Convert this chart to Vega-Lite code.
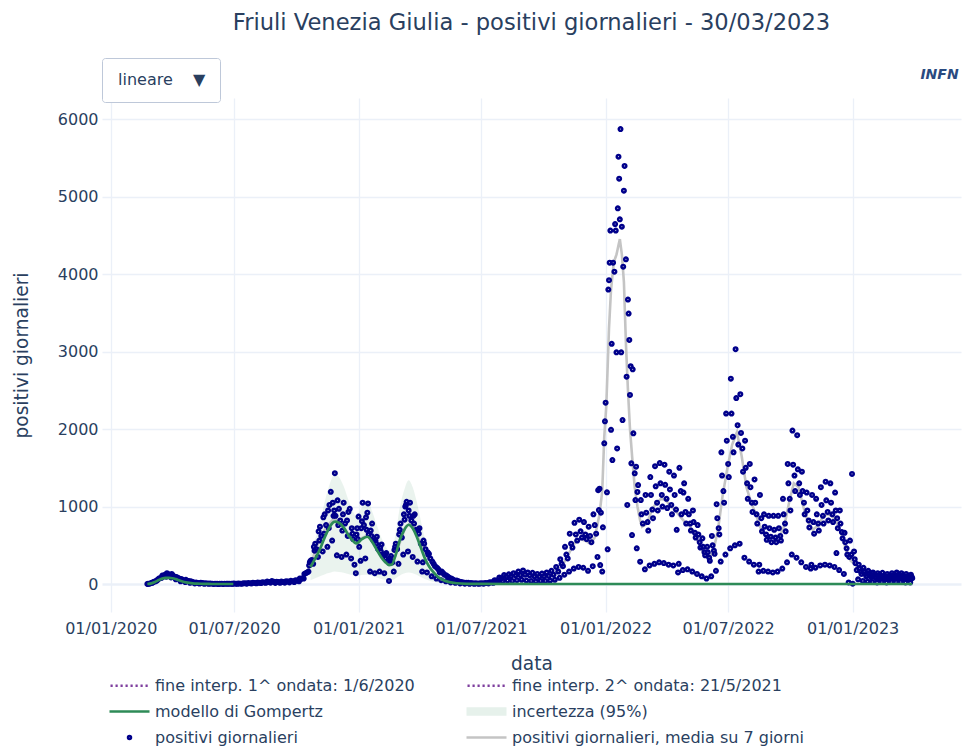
{
"$schema":"https://vega.github.io/schema/vega-lite/v6.json",
"width":859,"height":514,
"autosize":{"type":"none"},
"padding":{"left":102,"top":98,"right":4,"bottom":139},
"background":"#ffffff",
"config":{"view":{"stroke":null},"font":"DejaVu Sans"},
"title":{"text":"Friuli Venezia Giulia - positivi giornalieri - 30/03/2023","fontSize":22.6,"font":"DejaVu Sans","fontWeight":"normal","color":"#2a3f5f","anchor":"middle","frame":"group","offset":23},
"resolve":{"axis":{"x":"independent","y":"independent"}},
"datasets":{
"pts":[
{"d":"2020-02-24","v":1},{"d":"2020-02-25","v":2},{"d":"2020-02-27","v":5},{"d":"2020-02-29","v":10},
{"d":"2020-03-02","v":15},{"d":"2020-03-03","v":20},{"d":"2020-03-05","v":30},{"d":"2020-03-07","v":35},
{"d":"2020-03-09","v":45},{"d":"2020-03-10","v":55},{"d":"2020-03-12","v":70},{"d":"2020-03-14","v":75},
{"d":"2020-03-16","v":80},{"d":"2020-03-17","v":110},{"d":"2020-03-19","v":100},{"d":"2020-03-21","v":120},
{"d":"2020-03-23","v":95},{"d":"2020-03-24","v":140},{"d":"2020-03-26","v":125},{"d":"2020-03-28","v":115},
{"d":"2020-03-30","v":85},{"d":"2020-03-31","v":130},{"d":"2020-04-02","v":110},{"d":"2020-04-04","v":95},
{"d":"2020-04-06","v":60},{"d":"2020-04-07","v":90},{"d":"2020-04-09","v":80},{"d":"2020-04-11","v":70},
{"d":"2020-04-13","v":35},{"d":"2020-04-14","v":65},{"d":"2020-04-16","v":55},{"d":"2020-04-18","v":45},
{"d":"2020-04-20","v":25},{"d":"2020-04-21","v":55},{"d":"2020-04-23","v":40},{"d":"2020-04-25","v":38},
{"d":"2020-04-27","v":15},{"d":"2020-04-28","v":35},{"d":"2020-04-30","v":28},{"d":"2020-05-02","v":22},
{"d":"2020-05-04","v":8},{"d":"2020-05-06","v":20},{"d":"2020-05-09","v":14},{"d":"2020-05-11","v":6},{"d":"2020-05-13","v":15},{"d":"2020-05-16","v":12},{"d":"2020-05-18","v":3},{"d":"2020-05-20","v":10},{"d":"2020-05-23","v":8},{"d":"2020-05-25","v":2},{"d":"2020-05-27","v":7},{"d":"2020-05-30","v":5},
{"d":"2020-06-01","v":1},{"d":"2020-06-03","v":4},{"d":"2020-06-06","v":3},{"d":"2020-06-08","v":0},{"d":"2020-06-10","v":4},{"d":"2020-06-13","v":2},{"d":"2020-06-15","v":1},{"d":"2020-06-17","v":3},{"d":"2020-06-20","v":4},{"d":"2020-06-22","v":2},{"d":"2020-06-24","v":5},{"d":"2020-06-27","v":3},{"d":"2020-06-29","v":2},
{"d":"2020-07-01","v":6},{"d":"2020-07-04","v":5},{"d":"2020-07-06","v":3},{"d":"2020-07-08","v":7},{"d":"2020-07-11","v":5},{"d":"2020-07-13","v":4},{"d":"2020-07-15","v":10},{"d":"2020-07-18","v":9},{"d":"2020-07-20","v":5},{"d":"2020-07-22","v":13},{"d":"2020-07-25","v":11},{"d":"2020-07-27","v":8},{"d":"2020-07-29","v":18},
{"d":"2020-08-01","v":14},{"d":"2020-08-03","v":9},{"d":"2020-08-05","v":19},{"d":"2020-08-08","v":15},{"d":"2020-08-10","v":12},{"d":"2020-08-12","v":24},{"d":"2020-08-15","v":20},{"d":"2020-08-17","v":15},{"d":"2020-08-19","v":32},{"d":"2020-08-22","v":26},{"d":"2020-08-24","v":18},{"d":"2020-08-26","v":38},{"d":"2020-08-29","v":30},{"d":"2020-08-31","v":14},
{"d":"2020-09-02","v":30},{"d":"2020-09-05","v":27},{"d":"2020-09-07","v":15},{"d":"2020-09-09","v":31},{"d":"2020-09-12","v":26},{"d":"2020-09-14","v":17},{"d":"2020-09-16","v":36},{"d":"2020-09-19","v":31},{"d":"2020-09-21","v":20},{"d":"2020-09-23","v":42},{"d":"2020-09-26","v":36},{"d":"2020-09-28","v":25},{"d":"2020-09-30","v":50},
{"d":"2020-10-03","v":44},{"d":"2020-10-05","v":35},{"d":"2020-10-06","v":70},{"d":"2020-10-08","v":65},{"d":"2020-10-10","v":75},{"d":"2020-10-12","v":70},{"d":"2020-10-13","v":130},{"d":"2020-10-15","v":140},{"d":"2020-10-17","v":150},
{"d":"2020-10-19","v":160},{"d":"2020-10-20","v":240},{"d":"2020-10-21","v":280},{"d":"2020-10-22","v":300},{"d":"2020-10-24","v":310},
{"d":"2020-10-26","v":260},{"d":"2020-10-27","v":480},{"d":"2020-10-28","v":430},{"d":"2020-10-29","v":520},{"d":"2020-10-31","v":450},
{"d":"2020-11-02","v":350},{"d":"2020-11-03","v":680},{"d":"2020-11-04","v":560},{"d":"2020-11-05","v":740},{"d":"2020-11-07","v":620},
{"d":"2020-11-09","v":420},{"d":"2020-11-10","v":860},{"d":"2020-11-11","v":650},{"d":"2020-11-12","v":900},{"d":"2020-11-14","v":760},
{"d":"2020-11-16","v":480},{"d":"2020-11-17","v":950},{"d":"2020-11-18","v":720},{"d":"2020-11-19","v":1020},{"d":"2020-11-21","v":1190},
{"d":"2020-11-23","v":560},{"d":"2020-11-24","v":1050},{"d":"2020-11-25","v":880},{"d":"2020-11-26","v":950},{"d":"2020-11-27","v":1430},{"d":"2020-11-28","v":880},
{"d":"2020-11-30","v":370},{"d":"2020-12-01","v":1080},{"d":"2020-12-02","v":760},{"d":"2020-12-03","v":970},{"d":"2020-12-05","v":820},
{"d":"2020-12-07","v":350},{"d":"2020-12-08","v":690},{"d":"2020-12-09","v":900},{"d":"2020-12-10","v":1050},{"d":"2020-12-12","v":780},
{"d":"2020-12-14","v":380},{"d":"2020-12-15","v":820},{"d":"2020-12-16","v":620},{"d":"2020-12-17","v":930},{"d":"2020-12-19","v":970},
{"d":"2020-12-21","v":330},{"d":"2020-12-22","v":720},{"d":"2020-12-23","v":650},{"d":"2020-12-24","v":580},{"d":"2020-12-26","v":250},
{"d":"2020-12-28","v":140},{"d":"2020-12-29","v":640},{"d":"2020-12-30","v":720},{"d":"2020-12-31","v":580},
{"d":"2021-01-01","v":870},{"d":"2021-01-02","v":480},{"d":"2021-01-04","v":300},{"d":"2021-01-05","v":720},{"d":"2021-01-06","v":810},{"d":"2021-01-07","v":1050},{"d":"2021-01-09","v":760},
{"d":"2021-01-11","v":330},{"d":"2021-01-12","v":860},{"d":"2021-01-13","v":700},{"d":"2021-01-14","v":920},{"d":"2021-01-15","v":1040},{"d":"2021-01-16","v":640},
{"d":"2021-01-18","v":160},{"d":"2021-01-19","v":690},{"d":"2021-01-20","v":620},{"d":"2021-01-21","v":780},{"d":"2021-01-23","v":560},
{"d":"2021-01-25","v":140},{"d":"2021-01-26","v":560},{"d":"2021-01-27","v":520},{"d":"2021-01-28","v":610},{"d":"2021-01-30","v":450},
{"d":"2021-02-01","v":160},{"d":"2021-02-02","v":470},{"d":"2021-02-03","v":420},{"d":"2021-02-04","v":510},{"d":"2021-02-06","v":380},
{"d":"2021-02-08","v":140},{"d":"2021-02-09","v":380},{"d":"2021-02-10","v":330},{"d":"2021-02-11","v":400},{"d":"2021-02-13","v":300},
{"d":"2021-02-15","v":40},{"d":"2021-02-16","v":330},{"d":"2021-02-17","v":300},{"d":"2021-02-18","v":360},{"d":"2021-02-20","v":280},
{"d":"2021-02-22","v":160},{"d":"2021-02-23","v":440},{"d":"2021-02-24","v":480},{"d":"2021-02-25","v":520},{"d":"2021-02-27","v":450},
{"d":"2021-03-01","v":260},{"d":"2021-03-02","v":640},{"d":"2021-03-03","v":700},{"d":"2021-03-04","v":780},{"d":"2021-03-06","v":600},
{"d":"2021-03-08","v":380},{"d":"2021-03-09","v":900},{"d":"2021-03-10","v":830},{"d":"2021-03-11","v":1000},{"d":"2021-03-12","v":1020},{"d":"2021-03-13","v":1060},
{"d":"2021-03-15","v":420},{"d":"2021-03-16","v":950},{"d":"2021-03-17","v":880},{"d":"2021-03-18","v":1050},{"d":"2021-03-20","v":820},
{"d":"2021-03-22","v":350},{"d":"2021-03-23","v":880},{"d":"2021-03-24","v":780},{"d":"2021-03-25","v":900},{"d":"2021-03-27","v":700},
{"d":"2021-03-29","v":290},{"d":"2021-03-30","v":700},{"d":"2021-03-31","v":650},{"d":"2021-04-01","v":720},{"d":"2021-04-03","v":520},
{"d":"2021-04-05","v":160},{"d":"2021-04-06","v":280},{"d":"2021-04-07","v":560},{"d":"2021-04-08","v":520},{"d":"2021-04-10","v":450},
{"d":"2021-04-12","v":150},{"d":"2021-04-13","v":410},{"d":"2021-04-14","v":380},{"d":"2021-04-15","v":390},{"d":"2021-04-17","v":330},
{"d":"2021-04-19","v":100},{"d":"2021-04-20","v":290},{"d":"2021-04-22","v":260},{"d":"2021-04-24","v":230},
{"d":"2021-04-26","v":70},{"d":"2021-04-27","v":210},{"d":"2021-04-29","v":190},{"d":"2021-05-01","v":150},
{"d":"2021-05-03","v":50},{"d":"2021-05-04","v":160},{"d":"2021-05-06","v":140},{"d":"2021-05-08","v":120},
{"d":"2021-05-10","v":35},{"d":"2021-05-11","v":110},{"d":"2021-05-13","v":95},{"d":"2021-05-15","v":80},
{"d":"2021-05-17","v":20},{"d":"2021-05-18","v":70},{"d":"2021-05-20","v":60},{"d":"2021-05-22","v":50},
{"d":"2021-05-24","v":15},{"d":"2021-05-26","v":45},{"d":"2021-05-29","v":35},
{"d":"2021-05-31","v":8},{"d":"2021-06-02","v":25},{"d":"2021-06-05","v":20},{"d":"2021-06-07","v":5},{"d":"2021-06-09","v":18},{"d":"2021-06-12","v":15},{"d":"2021-06-14","v":3},{"d":"2021-06-16","v":12},{"d":"2021-06-19","v":10},{"d":"2021-06-21","v":2},{"d":"2021-06-23","v":10},{"d":"2021-06-26","v":8},{"d":"2021-06-28","v":3},{"d":"2021-06-30","v":10},
{"d":"2021-07-03","v":9},{"d":"2021-07-05","v":4},{"d":"2021-07-07","v":13},{"d":"2021-07-10","v":12},{"d":"2021-07-12","v":8},{"d":"2021-07-14","v":24},{"d":"2021-07-17","v":22},{"d":"2021-07-19","v":15},{"d":"2021-07-21","v":50},{"d":"2021-07-24","v":45},{"d":"2021-07-26","v":30},{"d":"2021-07-28","v":85},{"d":"2021-07-31","v":75},
{"d":"2021-08-02","v":40},{"d":"2021-08-04","v":115},{"d":"2021-08-07","v":95},{"d":"2021-08-09","v":45},{"d":"2021-08-11","v":125},{"d":"2021-08-14","v":100},{"d":"2021-08-16","v":40},{"d":"2021-08-18","v":140},{"d":"2021-08-21","v":110},{"d":"2021-08-23","v":50},{"d":"2021-08-25","v":160},{"d":"2021-08-28","v":115},{"d":"2021-08-30","v":55},
{"d":"2021-09-01","v":175},{"d":"2021-09-04","v":120},{"d":"2021-09-06","v":45},{"d":"2021-09-08","v":150},{"d":"2021-09-11","v":110},{"d":"2021-09-13","v":40},{"d":"2021-09-15","v":145},{"d":"2021-09-18","v":100},{"d":"2021-09-20","v":35},{"d":"2021-09-22","v":130},{"d":"2021-09-25","v":95},{"d":"2021-09-27","v":40},{"d":"2021-09-29","v":135},
{"d":"2021-10-02","v":100},{"d":"2021-10-04","v":40},{"d":"2021-10-06","v":150},{"d":"2021-10-09","v":105},{"d":"2021-10-11","v":45},{"d":"2021-10-13","v":170},{"d":"2021-10-16","v":120},{"d":"2021-10-18","v":55},{"d":"2021-10-20","v":220},{"d":"2021-10-23","v":160},
{"d":"2021-10-25","v":80},{"d":"2021-10-26","v":320},{"d":"2021-10-28","v":260},{"d":"2021-10-30","v":230},
{"d":"2021-11-01","v":120},{"d":"2021-11-02","v":480},{"d":"2021-11-04","v":380},{"d":"2021-11-06","v":330},
{"d":"2021-11-08","v":160},{"d":"2021-11-09","v":650},{"d":"2021-11-11","v":520},{"d":"2021-11-13","v":470},
{"d":"2021-11-15","v":200},{"d":"2021-11-16","v":790},{"d":"2021-11-18","v":640},{"d":"2021-11-20","v":560},
{"d":"2021-11-22","v":220},{"d":"2021-11-23","v":830},{"d":"2021-11-25","v":680},{"d":"2021-11-27","v":600},
{"d":"2021-11-29","v":210},{"d":"2021-11-30","v":800},{"d":"2021-12-02","v":640},{"d":"2021-12-04","v":580},
{"d":"2021-12-06","v":170},{"d":"2021-12-07","v":740},{"d":"2021-12-09","v":620},{"d":"2021-12-11","v":540},
{"d":"2021-12-13","v":230},{"d":"2021-12-14","v":900},{"d":"2021-12-16","v":760},{"d":"2021-12-18","v":650},
{"d":"2021-12-20","v":350},{"d":"2021-12-21","v":1210},{"d":"2021-12-22","v":955},{"d":"2021-12-23","v":1230},{"d":"2021-12-24","v":245},{"d":"2021-12-25","v":920},
{"d":"2021-12-27","v":160},{"d":"2021-12-28","v":731},{"d":"2021-12-30","v":1815},{"d":"2021-12-31","v":2100},
{"d":"2022-01-01","v":2340},{"d":"2022-01-03","v":1183},{"d":"2022-01-04","v":448},{"d":"2022-01-05","v":3800},{"d":"2022-01-06","v":3920},{"d":"2022-01-07","v":4146},{"d":"2022-01-08","v":4560},{"d":"2022-01-09","v":1990},{"d":"2022-01-10","v":3100},{"d":"2022-01-11","v":1600},{"d":"2022-01-12","v":4146},{"d":"2022-01-14","v":4030},{"d":"2022-01-15","v":4645},{"d":"2022-01-16","v":4560},{"d":"2022-01-17","v":2990},{"d":"2022-01-18","v":1750},{"d":"2022-01-19","v":4848},{"d":"2022-01-20","v":5514},{"d":"2022-01-21","v":5230},{"d":"2022-01-22","v":4705},{"d":"2022-01-23","v":5870},{"d":"2022-01-24","v":2990},{"d":"2022-01-25","v":4610},{"d":"2022-01-26","v":2115},{"d":"2022-01-27","v":4095},{"d":"2022-01-28","v":5075},{"d":"2022-01-29","v":5394},{"d":"2022-01-31","v":4190},
{"d":"2022-02-01","v":2675},{"d":"2022-02-02","v":1020},{"d":"2022-02-03","v":3670},{"d":"2022-02-04","v":3490},{"d":"2022-02-05","v":3150},{"d":"2022-02-06","v":2440},{"d":"2022-02-07","v":2810},{"d":"2022-02-08","v":1557},{"d":"2022-02-09","v":632},{"d":"2022-02-10","v":2770},{"d":"2022-02-11","v":1945},{"d":"2022-02-13","v":1428},{"d":"2022-02-14","v":1084},{"d":"2022-02-15","v":1514},{"d":"2022-02-16","v":460},{"d":"2022-02-17","v":1188},{"d":"2022-02-18","v":1277},{"d":"2022-02-21","v":288},{"d":"2022-02-22","v":1084},{"d":"2022-02-23","v":900},{"d":"2022-02-25","v":780},
{"d":"2022-02-28","v":190},{"d":"2022-03-01","v":1150},{"d":"2022-03-02","v":920},{"d":"2022-03-04","v":800},{"d":"2022-03-05","v":690},
{"d":"2022-03-07","v":240},{"d":"2022-03-08","v":1380},{"d":"2022-03-09","v":1150},{"d":"2022-03-11","v":960},{"d":"2022-03-12","v":850},
{"d":"2022-03-14","v":260},{"d":"2022-03-15","v":1520},{"d":"2022-03-16","v":1260},{"d":"2022-03-18","v":1050},{"d":"2022-03-19","v":950},
{"d":"2022-03-21","v":280},{"d":"2022-03-22","v":1560},{"d":"2022-03-23","v":1300},{"d":"2022-03-25","v":1150},{"d":"2022-03-26","v":1000},
{"d":"2022-03-28","v":270},{"d":"2022-03-29","v":1540},{"d":"2022-03-30","v":1280},{"d":"2022-04-01","v":1100},{"d":"2022-04-02","v":980},
{"d":"2022-04-04","v":250},{"d":"2022-04-05","v":1450},{"d":"2022-04-06","v":1220},{"d":"2022-04-08","v":1020},{"d":"2022-04-09","v":900},
{"d":"2022-04-11","v":240},{"d":"2022-04-12","v":1400},{"d":"2022-04-13","v":1150},{"d":"2022-04-15","v":960},{"d":"2022-04-16","v":700},
{"d":"2022-04-18","v":150},{"d":"2022-04-19","v":260},{"d":"2022-04-20","v":1500},{"d":"2022-04-22","v":1200},{"d":"2022-04-23","v":900},
{"d":"2022-04-25","v":180},{"d":"2022-04-26","v":1180},{"d":"2022-04-27","v":1300},{"d":"2022-04-29","v":930},{"d":"2022-04-30","v":780},
{"d":"2022-05-02","v":190},{"d":"2022-05-03","v":1100},{"d":"2022-05-04","v":900},{"d":"2022-05-06","v":780},{"d":"2022-05-07","v":690},
{"d":"2022-05-09","v":160},{"d":"2022-05-10","v":950},{"d":"2022-05-11","v":800},{"d":"2022-05-13","v":660},{"d":"2022-05-14","v":600},
{"d":"2022-05-16","v":130},{"d":"2022-05-17","v":760},{"d":"2022-05-18","v":640},{"d":"2022-05-20","v":540},{"d":"2022-05-21","v":470},
{"d":"2022-05-23","v":100},{"d":"2022-05-24","v":590},{"d":"2022-05-25","v":480},{"d":"2022-05-27","v":410},{"d":"2022-05-28","v":370},
{"d":"2022-05-30","v":70},{"d":"2022-05-31","v":480},{"d":"2022-06-01","v":410},{"d":"2022-06-03","v":340},{"d":"2022-06-04","v":300},
{"d":"2022-06-06","v":100},{"d":"2022-06-07","v":620},{"d":"2022-06-08","v":500},{"d":"2022-06-10","v":430},{"d":"2022-06-11","v":390},
{"d":"2022-06-13","v":170},{"d":"2022-06-14","v":1030},{"d":"2022-06-15","v":850},{"d":"2022-06-17","v":720},{"d":"2022-06-18","v":640},
{"d":"2022-06-20","v":290},{"d":"2022-06-21","v":1700},{"d":"2022-06-22","v":1400},{"d":"2022-06-24","v":1200},{"d":"2022-06-25","v":1050},
{"d":"2022-06-27","v":380},{"d":"2022-06-28","v":2200},{"d":"2022-06-29","v":1850},{"d":"2022-07-01","v":1550},{"d":"2022-07-02","v":1380},
{"d":"2022-07-04","v":460},{"d":"2022-07-05","v":2650},{"d":"2022-07-06","v":2200},{"d":"2022-07-08","v":1900},{"d":"2022-07-09","v":1700},
{"d":"2022-07-11","v":500},{"d":"2022-07-12","v":3030},{"d":"2022-07-13","v":2400},{"d":"2022-07-15","v":2050},{"d":"2022-07-16","v":1800},
{"d":"2022-07-18","v":520},{"d":"2022-07-19","v":2450},{"d":"2022-07-20","v":1950},{"d":"2022-07-22","v":1750},{"d":"2022-07-23","v":1450},
{"d":"2022-07-25","v":340},{"d":"2022-07-26","v":1850},{"d":"2022-07-27","v":1500},{"d":"2022-07-29","v":1300},{"d":"2022-07-30","v":1100},
{"d":"2022-08-01","v":290},{"d":"2022-08-02","v":1550},{"d":"2022-08-03","v":1250},{"d":"2022-08-05","v":1050},{"d":"2022-08-06","v":930},
{"d":"2022-08-08","v":250},{"d":"2022-08-09","v":1350},{"d":"2022-08-10","v":1050},{"d":"2022-08-12","v":900},{"d":"2022-08-13","v":780},
{"d":"2022-08-15","v":160},{"d":"2022-08-16","v":250},{"d":"2022-08-17","v":1150},{"d":"2022-08-19","v":850},{"d":"2022-08-20","v":680},
{"d":"2022-08-22","v":170},{"d":"2022-08-23","v":900},{"d":"2022-08-24","v":740},{"d":"2022-08-26","v":640},{"d":"2022-08-27","v":570},
{"d":"2022-08-29","v":160},{"d":"2022-08-30","v":880},{"d":"2022-08-31","v":720},{"d":"2022-09-02","v":610},{"d":"2022-09-03","v":540},
{"d":"2022-09-05","v":150},{"d":"2022-09-06","v":880},{"d":"2022-09-07","v":700},{"d":"2022-09-09","v":600},{"d":"2022-09-10","v":540},
{"d":"2022-09-12","v":160},{"d":"2022-09-13","v":880},{"d":"2022-09-14","v":720},{"d":"2022-09-16","v":620},{"d":"2022-09-17","v":560},
{"d":"2022-09-19","v":200},{"d":"2022-09-20","v":1100},{"d":"2022-09-21","v":900},{"d":"2022-09-23","v":780},{"d":"2022-09-24","v":680},
{"d":"2022-09-26","v":280},{"d":"2022-09-27","v":1550},{"d":"2022-09-28","v":1300},{"d":"2022-09-30","v":1100},{"d":"2022-10-01","v":950},
{"d":"2022-10-03","v":380},{"d":"2022-10-04","v":1980},{"d":"2022-10-05","v":1540},{"d":"2022-10-07","v":1400},{"d":"2022-10-08","v":1200},
{"d":"2022-10-10","v":340},{"d":"2022-10-11","v":1920},{"d":"2022-10-12","v":1480},{"d":"2022-10-14","v":1300},{"d":"2022-10-15","v":1150},
{"d":"2022-10-17","v":280},{"d":"2022-10-18","v":1450},{"d":"2022-10-19","v":1200},{"d":"2022-10-21","v":1050},{"d":"2022-10-22","v":900},
{"d":"2022-10-24","v":220},{"d":"2022-10-25","v":1180},{"d":"2022-10-26","v":950},{"d":"2022-10-28","v":820},{"d":"2022-10-29","v":730},
{"d":"2022-10-31","v":200},{"d":"2022-11-01","v":250},{"d":"2022-11-02","v":1150},{"d":"2022-11-04","v":800},{"d":"2022-11-05","v":650},
{"d":"2022-11-07","v":210},{"d":"2022-11-08","v":1100},{"d":"2022-11-09","v":900},{"d":"2022-11-11","v":780},{"d":"2022-11-12","v":690},
{"d":"2022-11-14","v":240},{"d":"2022-11-15","v":1250},{"d":"2022-11-16","v":1020},{"d":"2022-11-18","v":880},{"d":"2022-11-19","v":780},
{"d":"2022-11-21","v":250},{"d":"2022-11-22","v":1320},{"d":"2022-11-23","v":1080},{"d":"2022-11-25","v":930},{"d":"2022-11-26","v":820},
{"d":"2022-11-28","v":240},{"d":"2022-11-29","v":1300},{"d":"2022-11-30","v":1050},{"d":"2022-12-02","v":900},{"d":"2022-12-03","v":800},
{"d":"2022-12-05","v":220},{"d":"2022-12-06","v":1180},{"d":"2022-12-07","v":950},{"d":"2022-12-08","v":400},{"d":"2022-12-09","v":850},{"d":"2022-12-10","v":720},
{"d":"2022-12-12","v":180},{"d":"2022-12-13","v":950},{"d":"2022-12-14","v":780},{"d":"2022-12-16","v":670},{"d":"2022-12-17","v":590},
{"d":"2022-12-19","v":130},{"d":"2022-12-20","v":660},{"d":"2022-12-21","v":540},{"d":"2022-12-23","v":460},{"d":"2022-12-24","v":380},
{"d":"2022-12-26","v":20},{"d":"2022-12-27","v":350},{"d":"2022-12-28","v":560},{"d":"2022-12-30","v":380},{"d":"2022-12-31","v":1420},
{"d":"2023-01-01","v":5},{"d":"2023-01-03","v":420},{"d":"2023-01-04","v":320},{"d":"2023-01-05","v":270},{"d":"2023-01-07","v":180},
{"d":"2023-01-09","v":60},{"d":"2023-01-10","v":250},{"d":"2023-01-11","v":200},{"d":"2023-01-13","v":160},{"d":"2023-01-14","v":130},
{"d":"2023-01-16","v":40},{"d":"2023-01-17","v":210},{"d":"2023-01-18","v":160},{"d":"2023-01-20","v":130},{"d":"2023-01-21","v":100},
{"d":"2023-01-23","v":30},{"d":"2023-01-24","v":170},{"d":"2023-01-25","v":140},{"d":"2023-01-27","v":110},{"d":"2023-01-28","v":90},
{"d":"2023-01-30","v":25},{"d":"2023-01-31","v":150},{"d":"2023-02-01","v":120},{"d":"2023-02-03","v":95},{"d":"2023-02-04","v":80},
{"d":"2023-02-06","v":20},{"d":"2023-02-07","v":140},{"d":"2023-02-08","v":110},{"d":"2023-02-10","v":90},{"d":"2023-02-11","v":70},
{"d":"2023-02-13","v":25},{"d":"2023-02-14","v":145},{"d":"2023-02-15","v":105},{"d":"2023-02-17","v":85},{"d":"2023-02-18","v":70},
{"d":"2023-02-20","v":20},{"d":"2023-02-21","v":130},{"d":"2023-02-22","v":100},{"d":"2023-02-24","v":80},{"d":"2023-02-25","v":65},
{"d":"2023-02-27","v":25},{"d":"2023-02-28","v":140},{"d":"2023-03-01","v":110},{"d":"2023-03-03","v":90},{"d":"2023-03-04","v":70},
{"d":"2023-03-06","v":25},{"d":"2023-03-07","v":150},{"d":"2023-03-08","v":115},{"d":"2023-03-10","v":95},{"d":"2023-03-11","v":75},
{"d":"2023-03-13","v":25},{"d":"2023-03-14","v":140},{"d":"2023-03-15","v":110},{"d":"2023-03-17","v":85},{"d":"2023-03-18","v":70},
{"d":"2023-03-20","v":20},{"d":"2023-03-21","v":130},{"d":"2023-03-22","v":100},{"d":"2023-03-24","v":80},{"d":"2023-03-25","v":65},
{"d":"2023-03-27","v":20},{"d":"2023-03-28","v":120},{"d":"2023-03-29","v":95},{"d":"2023-03-30","v":75}
],
"avg":[
{"d":"2020-02-27","v":5},{"d":"2020-03-05","v":25},{"d":"2020-03-12","v":60},{"d":"2020-03-19","v":95},{"d":"2020-03-26","v":110},{"d":"2020-04-02","v":100},{"d":"2020-04-09","v":75},{"d":"2020-04-16","v":50},{"d":"2020-04-23","v":40},{"d":"2020-04-30","v":25},{"d":"2020-05-07","v":15},{"d":"2020-05-14","v":12},{"d":"2020-05-21","v":8},{"d":"2020-05-28","v":5},{"d":"2020-06-04","v":3},{"d":"2020-06-11","v":3},{"d":"2020-06-18","v":3},{"d":"2020-06-25","v":4},{"d":"2020-07-02","v":5},{"d":"2020-07-09","v":5},{"d":"2020-07-16","v":8},{"d":"2020-07-23","v":10},{"d":"2020-07-30","v":15},{"d":"2020-08-06","v":15},{"d":"2020-08-13","v":20},{"d":"2020-08-20","v":25},{"d":"2020-08-27","v":30},{"d":"2020-09-03","v":25},{"d":"2020-09-10","v":25},{"d":"2020-09-17","v":30},{"d":"2020-09-24","v":35},{"d":"2020-10-01","v":40},{"d":"2020-10-08","v":60},{"d":"2020-10-15","v":120},{"d":"2020-10-22","v":250},{"d":"2020-10-29","v":420},{"d":"2020-11-05","v":600},{"d":"2020-11-12","v":700},{"d":"2020-11-19","v":780},{"d":"2020-11-26","v":850},{"d":"2020-12-03","v":800},{"d":"2020-12-10","v":720},{"d":"2020-12-17","v":650},{"d":"2020-12-24","v":560},{"d":"2020-12-31","v":520},
{"d":"2021-01-07","v":600},{"d":"2021-01-14","v":620},{"d":"2021-01-21","v":560},{"d":"2021-01-28","v":470},{"d":"2021-02-04","v":380},{"d":"2021-02-11","v":300},{"d":"2021-02-18","v":260},{"d":"2021-02-25","v":380},{"d":"2021-03-04","v":560},{"d":"2021-03-11","v":730},{"d":"2021-03-18","v":780},{"d":"2021-03-25","v":700},{"d":"2021-04-01","v":560},{"d":"2021-04-08","v":420},{"d":"2021-04-15","v":320},{"d":"2021-04-22","v":220},{"d":"2021-04-29","v":160},{"d":"2021-05-06","v":120},{"d":"2021-05-13","v":80},{"d":"2021-05-20","v":50},{"d":"2021-05-27","v":35},{"d":"2021-06-03","v":20},{"d":"2021-06-10","v":15},{"d":"2021-06-17","v":10},{"d":"2021-06-24","v":8},{"d":"2021-07-01","v":8},{"d":"2021-07-08","v":10},{"d":"2021-07-15","v":20},{"d":"2021-07-22","v":40},{"d":"2021-07-29","v":70},{"d":"2021-08-05","v":90},{"d":"2021-08-12","v":95},{"d":"2021-08-19","v":100},{"d":"2021-08-26","v":110},{"d":"2021-09-02","v":115},{"d":"2021-09-09","v":105},{"d":"2021-09-16","v":100},{"d":"2021-09-23","v":90},{"d":"2021-09-30","v":95},{"d":"2021-10-07","v":100},{"d":"2021-10-14","v":115},{"d":"2021-10-21","v":150},{"d":"2021-10-28","v":230},{"d":"2021-11-04","v":330},{"d":"2021-11-11","v":450},{"d":"2021-11-18","v":550},{"d":"2021-11-25","v":580},{"d":"2021-12-02","v":560},{"d":"2021-12-09","v":520},{"d":"2021-12-16","v":600},{"d":"2021-12-23","v":900},{"d":"2021-12-27","v":1200},{"d":"2021-12-30","v":1900},
{"d":"2022-01-02","v":2300},{"d":"2022-01-06","v":3300},{"d":"2022-01-09","v":3800},{"d":"2022-01-13","v":4150},{"d":"2022-01-17","v":4250},{"d":"2022-01-22","v":4450},{"d":"2022-01-25","v":4250},{"d":"2022-01-28","v":3900},{"d":"2022-01-31","v":3100},{"d":"2022-02-03","v":2500},{"d":"2022-02-06","v":2000},{"d":"2022-02-10","v":1550},{"d":"2022-02-13","v":1250},{"d":"2022-02-17","v":1000},{"d":"2022-02-21","v":820},{"d":"2022-02-24","v":740},{"d":"2022-03-03","v":780},{"d":"2022-03-10","v":950},{"d":"2022-03-17","v":1050},{"d":"2022-03-24","v":1100},{"d":"2022-03-31","v":1080},{"d":"2022-04-07","v":1000},{"d":"2022-04-14","v":950},{"d":"2022-04-21","v":870},{"d":"2022-04-28","v":800},{"d":"2022-05-05","v":750},{"d":"2022-05-12","v":650},{"d":"2022-05-19","v":520},{"d":"2022-05-26","v":400},{"d":"2022-06-02","v":330},{"d":"2022-06-09","v":420},{"d":"2022-06-16","v":700},{"d":"2022-06-23","v":1150},{"d":"2022-06-30","v":1500},{"d":"2022-07-07","v":1800},{"d":"2022-07-14","v":1960},{"d":"2022-07-21","v":1650},{"d":"2022-07-28","v":1250},{"d":"2022-08-04","v":1050},{"d":"2022-08-11","v":900},{"d":"2022-08-18","v":720},{"d":"2022-08-25","v":620},{"d":"2022-09-01","v":600},{"d":"2022-09-08","v":600},{"d":"2022-09-15","v":620},{"d":"2022-09-22","v":750},{"d":"2022-09-29","v":1050},{"d":"2022-10-06","v":1300},{"d":"2022-10-13","v":1250},{"d":"2022-10-20","v":1000},{"d":"2022-10-27","v":800},{"d":"2022-11-03","v":700},{"d":"2022-11-10","v":750},{"d":"2022-11-17","v":850},{"d":"2022-11-24","v":900},{"d":"2022-12-01","v":880},{"d":"2022-12-08","v":800},{"d":"2022-12-15","v":650},{"d":"2022-12-22","v":450},{"d":"2022-12-29","v":300},
{"d":"2023-01-05","v":250},{"d":"2023-01-12","v":150},{"d":"2023-01-19","v":120},{"d":"2023-01-26","v":100},{"d":"2023-02-02","v":90},{"d":"2023-02-09","v":80},{"d":"2023-02-16","v":80},{"d":"2023-02-23","v":75},{"d":"2023-03-02","v":80},{"d":"2023-03-09","v":85},{"d":"2023-03-16","v":80},{"d":"2023-03-23","v":75},{"d":"2023-03-30","v":70}
],
"mod":[
{"d":"2020-02-24","g":0,"w":1},{"d":"2020-03-01","g":8,"w":1},{"d":"2020-03-07","g":30,"w":1},{"d":"2020-03-12","g":52,"w":1},{"d":"2020-03-17","g":70,"w":1},{"d":"2020-03-22","g":79,"w":1},{"d":"2020-03-27","g":80,"w":1},{"d":"2020-04-01","g":75,"w":1},{"d":"2020-04-06","g":63,"w":1},{"d":"2020-04-11","g":48,"w":1},{"d":"2020-04-16","g":33,"w":1},{"d":"2020-04-21","g":22,"w":1},{"d":"2020-04-26","g":14,"w":1},{"d":"2020-05-01","g":9,"w":1},{"d":"2020-05-08","g":5,"w":1},{"d":"2020-05-15","g":3,"w":1},{"d":"2020-05-25","g":1,"w":1},{"d":"2020-06-10","g":0,"w":1},{"d":"2020-06-30","g":0,"w":1},
{"d":"2020-10-22","g":220,"lo":50,"hi":390,"w":2},{"d":"2020-10-29","g":330,"lo":75,"hi":580,"w":2},{"d":"2020-11-05","g":450,"lo":100,"hi":790,"w":2},{"d":"2020-11-10","g":560,"lo":115,"hi":980,"w":2},{"d":"2020-11-15","g":660,"lo":135,"hi":1160,"w":2},{"d":"2020-11-21","g":760,"lo":150,"hi":1330,"w":2},{"d":"2020-11-27","g":805,"lo":160,"hi":1420,"w":2},{"d":"2020-12-03","g":790,"lo":155,"hi":1380,"w":2},{"d":"2020-12-10","g":730,"lo":145,"hi":1260,"w":2},{"d":"2020-12-18","g":620,"lo":125,"hi":1060,"w":2},{"d":"2020-12-29","g":525,"lo":105,"hi":880,"w":2},
{"d":"2021-01-06","g":580,"lo":115,"hi":990,"w":2},{"d":"2021-01-14","g":610,"lo":120,"hi":1080,"w":2},{"d":"2021-01-21","g":545,"lo":105,"hi":940,"w":2},{"d":"2021-01-28","g":440,"lo":85,"hi":760,"w":2},{"d":"2021-02-04","g":340,"lo":65,"hi":590,"w":2},{"d":"2021-02-09","g":288,"lo":55,"hi":500,"w":2},{"d":"2021-02-15","g":245,"lo":45,"hi":430,"w":2},{"d":"2021-02-19","g":250,"lo":45,"hi":440,"w":2},{"d":"2021-02-25","g":380,"lo":75,"hi":660,"w":2},{"d":"2021-03-03","g":568,"lo":110,"hi":990,"w":2},{"d":"2021-03-09","g":690,"lo":135,"hi":1200,"w":2},{"d":"2021-03-16","g":765,"lo":150,"hi":1340,"w":2},{"d":"2021-03-22","g":720,"lo":140,"hi":1250,"w":2},{"d":"2021-03-28","g":610,"lo":120,"hi":1060,"w":2},{"d":"2021-04-03","g":470,"lo":90,"hi":820,"w":2},{"d":"2021-04-09","g":331,"lo":65,"hi":580,"w":2},{"d":"2021-04-15","g":230,"lo":45,"hi":400,"w":2},{"d":"2021-04-21","g":159,"lo":30,"hi":280,"w":2},{"d":"2021-04-28","g":95,"lo":18,"hi":170,"w":2},{"d":"2021-05-06","g":52,"lo":10,"hi":95,"w":2},{"d":"2021-05-15","g":25,"lo":5,"hi":45,"w":2},{"d":"2021-05-26","g":10,"lo":2,"hi":18,"w":2},{"d":"2021-06-10","g":3,"lo":0,"hi":6,"w":2},
{"d":"2021-07-01","g":1,"w":2},{"d":"2021-12-01","g":0,"w":2},{"d":"2022-06-01","g":0,"w":2},{"d":"2023-03-30","g":0,"w":2}
]
},
"layer":[
{"data":{"name":"mod"},"mark":{"type":"area","interpolate":"monotone","color":"#2e8b57","opacity":0.1},
 "encoding":{
  "x":{"field":"d","type":"temporal","scale":{"domain":[{"year":2019,"month":12,"date":19},{"year":2023,"month":6,"date":10}]},"axis":null},
  "y":{"field":"lo","type":"quantitative","scale":{"domain":[-361,6271],"nice":false,"zero":false},"axis":null},
  "y2":{"field":"hi"}}},
{"data":{"name":"avg"},"mark":{"type":"line","color":"#c4c4c4","strokeWidth":2.6},
 "encoding":{
  "x":{"field":"d","type":"temporal","scale":{"domain":[{"year":2019,"month":12,"date":19},{"year":2023,"month":6,"date":10}]},"axis":null},
  "y":{"field":"v","type":"quantitative","scale":{"domain":[-361,6271],"nice":false,"zero":false},"axis":null},
  "strokeDash":{"datum":"lineare\u00a0\u00a0\u00a0\u00a0\u25bc","scale":{"domain":["lineare\u00a0\u00a0\u00a0\u00a0\u25bc"],"range":[[1,0]]},
   "legend":{"orient":"none","legendX":0,"legendY":-40,"title":null,"strokeColor":"#bec8d9","fillColor":"#ffffff","cornerRadius":3,"padding":14,"symbolSize":0,"symbolStrokeWidth":0,"symbolOpacity":0,"labelOffset":-14,"labelFontSize":16,"labelColor":"#2a3f5f","labelFont":"DejaVu Sans","labelLimit":300}}}},
{"data":{"name":"pts"},"mark":{"type":"point","filled":false,"strokeWidth":2.5,"size":544,"opacity":1},
 "encoding":{
  "x":{"field":"d","type":"temporal","scale":{"domain":[{"year":2019,"month":12,"date":19},{"year":2023,"month":6,"date":10}]},
   "axis":{"values":[{"year":2020,"month":1,"date":1},{"year":2020,"month":7,"date":1},{"year":2021,"month":1,"date":1},{"year":2021,"month":7,"date":1},{"year":2022,"month":1,"date":1},{"year":2022,"month":7,"date":1},{"year":2023,"month":1,"date":1}],
    "format":"%d/%m/%Y","title":"data","grid":true,"gridColor":"#ebf0f8","gridWidth":1.3,"domain":false,"ticks":false,"labelPadding":8,"labelFontSize":16,"labelColor":"#2a3f5f","labelFont":"DejaVu Sans","labelFlush":false,"labelOverlap":false,
    "titleFontSize":18.6,"titleFont":"DejaVu Sans","titleFontWeight":"normal","titleColor":"#2a3f5f","titlePadding":18}},
  "y":{"field":"v","type":"quantitative","scale":{"domain":[-361,6271],"nice":false,"zero":false},
   "axis":{"values":[0,1000,2000,3000,4000,5000,6000],"format":"d","title":"positivi giornalieri","grid":true,"gridColor":"#ebf0f8",
    "gridWidth":{"condition":{"test":"datum.value === 0","value":2.6},"value":1.3},
    "domain":false,"ticks":false,"labelPadding":4,"labelFontSize":16,"labelColor":"#2a3f5f","labelFont":"DejaVu Sans",
    "titleFontSize":18.6,"titleFont":"DejaVu Sans","titleFontWeight":"normal","titleColor":"#2a3f5f","titlePadding":26}},
  "color":{"datum":"positivi giornalieri","scale":{"domain":["fine interp. 1^ ondata: 1/6/2020","modello di Gompertz","positivi giornalieri","fine interp. 2^ ondata: 21/5/2021","incertezza (95%)","positivi giornalieri, media su 7 giorni"],"range":["#7e3f9e","#2e8b57","#00008b","#7e3f9e","#e6f1eb","#c4c4c4"]},
   "legend":{"orient":"none","legendX":6,"legendY":576,"columns":2,"title":null,"symbolSize":400,"symbolStrokeWidth":2.5,"symbolOffset":10,"labelOffset":14,"labelFontSize":16,"labelFont":"DejaVu Sans","labelColor":"#2a3f5f","labelLimit":400,"rowPadding":6,"columnPadding":46}},
  "shape":{"datum":"positivi giornalieri","scale":{"domain":["fine interp. 1^ ondata: 1/6/2020","modello di Gompertz","positivi giornalieri","fine interp. 2^ ondata: 21/5/2021","incertezza (95%)","positivi giornalieri, media su 7 giorni"],
    "range":["M-1.9,0h0.22M-1.4,0h0.22M-0.9,0h0.22M-0.4,0h0.22M0.1,0h0.22M0.6,0h0.22M1.1,0h0.22M1.6,0h0.22","M-2,0H2","M-0.15,0A0.15,0.15,0,1,0,0.15,0A0.15,0.15,0,1,0,-0.15,0Z","M-1.9,0h0.22M-1.4,0h0.22M-0.9,0h0.22M-0.4,0h0.22M0.1,0h0.22M0.6,0h0.22M1.1,0h0.22M1.6,0h0.22","M-2,-0.3H2M-2,-0.1H2M-2,0.1H2M-2,0.3H2","M-2,0H2"]},
   "legend":{"orient":"none","legendX":6,"legendY":576,"columns":2,"title":null,"symbolSize":400,"symbolStrokeWidth":2.5,"symbolOffset":10,"labelOffset":14,"labelFontSize":16,"labelFont":"DejaVu Sans","labelColor":"#2a3f5f","labelLimit":400,"rowPadding":6,"columnPadding":46}}}},
{"data":{"name":"mod"},"mark":{"type":"line","color":"#2e8b57","strokeWidth":2.7,"interpolate":"monotone"},
 "encoding":{
  "x":{"field":"d","type":"temporal","scale":{"domain":[{"year":2019,"month":12,"date":19},{"year":2023,"month":6,"date":10}]},"axis":null},
  "y":{"field":"g","type":"quantitative","scale":{"domain":[-361,6271],"nice":false,"zero":false},
   "axis":{"orient":"right","title":"INFN","labels":false,"ticks":false,"domain":false,"grid":false,"titleAngle":0,"titleX":-22,"titleY":-24,"titleAlign":"center","titleBaseline":"middle","titleFontSize":14,"titleFontWeight":"bold","titleFontStyle":"italic","titleColor":"#2a4a80","titleFont":"DejaVu Sans"}},
  "detail":{"field":"w","type":"nominal"}}}
]
}
